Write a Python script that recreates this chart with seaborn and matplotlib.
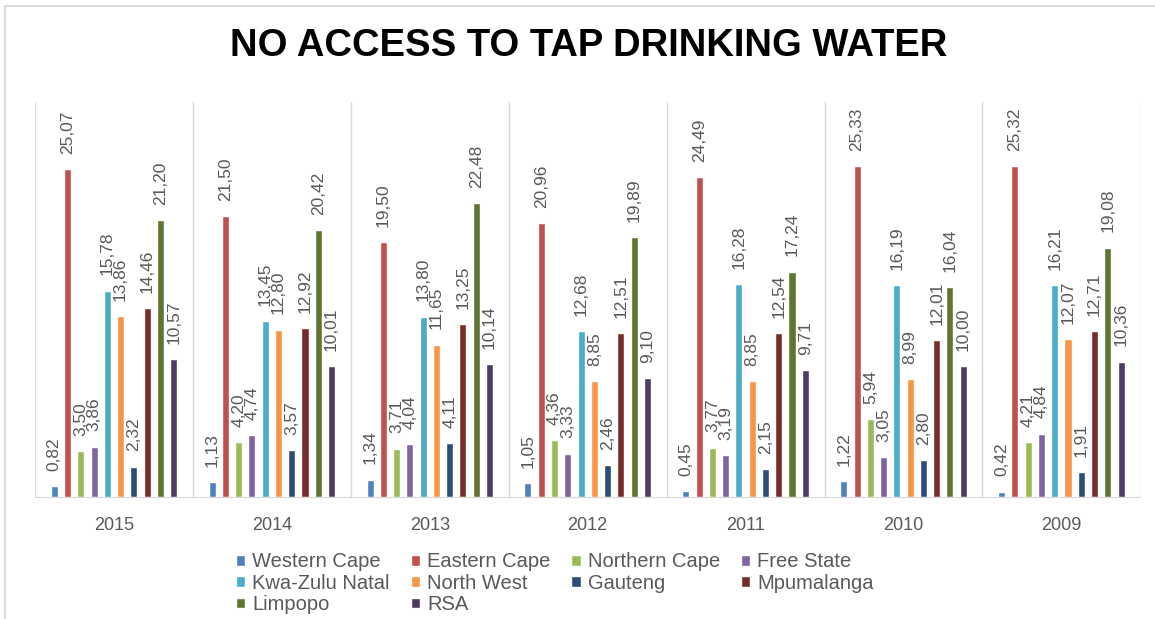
import pandas as pd
import numpy as np
import matplotlib
matplotlib.use('Agg')
import matplotlib.pyplot as plt
from matplotlib.lines import Line2D
import seaborn as sns

# Datos
years = ['2015', '2014', '2013', '2012', '2011', '2010', '2009']
provinces = ['Western Cape', 'Eastern Cape', 'Northern Cape', 'Free State',
             'Kwa-Zulu Natal', 'North West', 'Gauteng', 'Mpumalanga',
             'Limpopo', 'RSA']

western_cape = [0.82, 1.13, 1.34, 1.05, 0.45, 1.22, 0.42]
eastern_cape = [25.07, 21.50, 19.50, 20.96, 24.49, 25.33, 25.32]
northern_cape = [3.50, 4.20, 3.71, 4.36, 3.77, 5.94, 4.21]
free_state = [3.86, 4.74, 4.04, 3.33, 3.19, 3.05, 4.84]
kwazulu_natal = [15.78, 13.45, 13.80, 12.68, 16.28, 16.19, 16.21]
north_west = [13.86, 12.80, 11.65, 8.85, 8.85, 8.99, 12.07]
gauteng = [2.32, 3.57, 4.11, 2.46, 2.15, 2.80, 1.91]
mpumalanga = [14.46, 12.92, 13.25, 12.51, 12.54, 12.01, 12.71]
limpopo = [21.20, 20.42, 22.48, 19.89, 17.24, 16.04, 19.08]
rsa = [10.57, 10.01, 10.14, 9.10, 9.71, 10.00, 10.36]

colors = ['#4F81BD', '#C0504D', '#9BBB59', '#8064A2', '#4BACC6',
          '#F79646', '#2C4D75', '#772C2A', '#5F7530', '#4D3B62']

series = [western_cape, eastern_cape, northern_cape, free_state, kwazulu_natal,
          north_west, gauteng, mpumalanga, limpopo, rsa]
rows = []
for prov, vals in zip(provinces, series):
    for y, v in zip(years, vals):
        rows.append({'year': y, 'province': prov, 'value': v})
df = pd.DataFrame(rows)

sns.set_style('white')
plt.rcParams['font.family'] = ['Liberation Sans', 'DejaVu Sans']

fig = plt.figure(figsize=(11.55, 6.19), dpi=100)
ax = fig.add_axes([0.0303, 0.197, 0.957, 0.638])

sns.barplot(data=df, x='year', y='value', hue='province', order=years,
            hue_order=provinces, palette=colors, width=0.84, gap=0.47,
            ax=ax, legend=True, saturation=1)

# Etiquetas de valores
for cont in ax.containers:
    labels = [f"{b.get_height():.2f}".replace('.', ',') for b in cont]
    ax.bar_label(cont, labels=labels, rotation=90, padding=11,
                 fontsize=12.5, color='#595959')

# Separadores verticales
for xv in np.arange(-0.5, 7, 1):
    ax.axvline(xv, color='#D9D9D9', lw=1, zorder=0)

ax.set_xlim(-0.5, 6.5)
ax.set_ylim(0, 30.2)
ax.set_yticks([])
ax.set_xlabel('')
ax.set_ylabel('')
for s in ['top', 'right', 'left']:
    ax.spines[s].set_visible(False)
ax.spines['bottom'].set_color('#D9D9D9')
ax.tick_params(axis='x', length=0, pad=14, labelsize=13, labelcolor='#595959')

# Leyenda (orden por filas)
handles, labs = ax.get_legend_handles_labels()
order = [0, 4, 8, 1, 5, 9, 2, 6, 3, 7]
ax.legend([handles[i] for i in order], [labs[i] for i in order],
          ncol=4, loc='upper left', bbox_to_anchor=(0.1957, 0.124),
          bbox_transform=fig.transFigure, frameon=False, fontsize=14.5,
          borderpad=0, handlelength=0.45, handleheight=0.45,
          handletextpad=0.35, columnspacing=1.05, labelspacing=0.12,
          labelcolor='#595959')

fig.suptitle('NO ACCESS TO TAP DRINKING WATER', x=0.51, y=0.925, va='center',
             fontsize=27.5, fontweight='bold', color='black')

# Borde de la imagen
fig.add_artist(Line2D([0.004, 0.004], [0, 0.99], color='#D9D9D9', lw=1.5,
                      transform=fig.transFigure))
fig.add_artist(Line2D([0.004, 1], [0.99, 0.99], color='#D9D9D9', lw=1.5,
                      transform=fig.transFigure))

plt.savefig('out.png', dpi=100)
